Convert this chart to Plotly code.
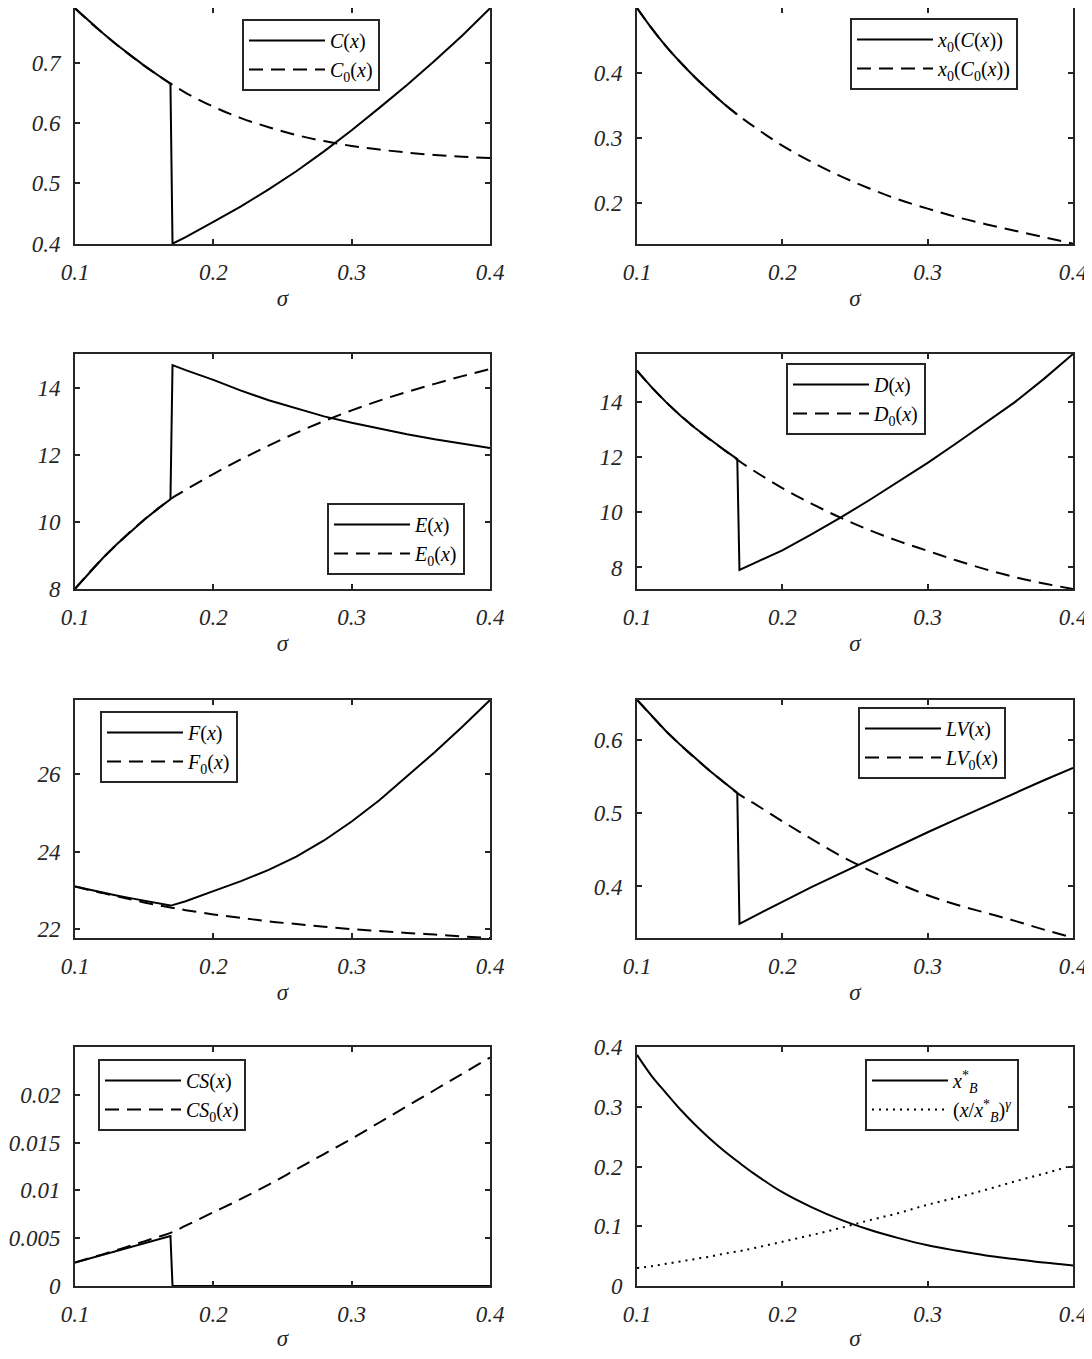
import plotly.graph_objects as go

# ---------------- data ----------------
sigma_pre = [0.10, 0.11, 0.12, 0.13, 0.14, 0.15, 0.16, 0.169]
sigma_post = [0.1705, 0.18, 0.20, 0.22, 0.24, 0.26, 0.28, 0.30, 0.32, 0.34, 0.36, 0.38, 0.40]
sigma_all = [0.10, 0.11, 0.12, 0.13, 0.14, 0.15, 0.16, 0.17, 0.18, 0.20, 0.22, 0.24,
             0.26, 0.28, 0.30, 0.32, 0.34, 0.36, 0.38, 0.40]

C_pre = [0.790, 0.769, 0.749, 0.730, 0.712, 0.695, 0.679, 0.665]
C_post = [0.400, 0.411, 0.436, 0.462, 0.490, 0.520, 0.553, 0.588, 0.625, 0.663, 0.703, 0.745, 0.790]
C0 = [0.790, 0.769, 0.749, 0.730, 0.712, 0.695, 0.679, 0.664, 0.650, 0.627, 0.608, 0.593,
      0.580, 0.570, 0.562, 0.556, 0.551, 0.547, 0.544, 0.542]

x0C_pre = [0.500, 0.469, 0.441, 0.416, 0.393, 0.372, 0.352, 0.336]
x0C0 = [0.500, 0.469, 0.441, 0.416, 0.393, 0.372, 0.352, 0.334, 0.318, 0.288, 0.263, 0.241,
        0.222, 0.205, 0.191, 0.178, 0.167, 0.157, 0.147, 0.137]

E_pre = [8.00, 8.47, 8.91, 9.32, 9.70, 10.06, 10.39, 10.67]
E_post = [14.67, 14.52, 14.23, 13.91, 13.62, 13.37, 13.14, 12.95, 12.77, 12.61, 12.46, 12.32, 12.20]
E0 = [8.00, 8.47, 8.91, 9.32, 9.70, 10.06, 10.39, 10.70, 10.95, 11.42, 11.86, 12.27,
      12.65, 13.00, 13.32, 13.61, 13.87, 14.11, 14.34, 14.55]

D_pre = [15.12, 14.52, 13.98, 13.49, 13.04, 12.63, 12.25, 11.92]
D_post = [7.91, 8.14, 8.62, 9.20, 9.80, 10.44, 11.10, 11.78, 12.50, 13.24, 13.98, 14.82, 15.72]
D0 = [15.12, 14.52, 13.98, 13.49, 13.04, 12.63, 12.25, 11.86, 11.51, 10.87, 10.31, 9.80,
      9.35, 8.95, 8.60, 8.25, 7.93, 7.65, 7.42, 7.22]

F_pre = [23.10, 23.02, 22.94, 22.87, 22.80, 22.73, 22.67, 22.61]
F_post = [22.62, 22.72, 22.98, 23.24, 23.53, 23.87, 24.29, 24.78, 25.33, 25.94, 26.57, 27.23, 27.92]
F0 = [23.10, 23.01, 22.93, 22.85, 22.77, 22.69, 22.62, 22.55, 22.49, 22.38, 22.29, 22.20,
      22.13, 22.06, 22.00, 21.95, 21.90, 21.86, 21.81, 21.77]

LV_pre = [0.655, 0.633, 0.612, 0.593, 0.575, 0.558, 0.542, 0.528]
LV_post = [0.349, 0.359, 0.379, 0.399, 0.418, 0.437, 0.455, 0.474, 0.492, 0.510, 0.528, 0.545, 0.562]
LV0 = [0.655, 0.633, 0.612, 0.593, 0.575, 0.558, 0.542, 0.526, 0.514, 0.489, 0.465, 0.442,
       0.422, 0.404, 0.388, 0.375, 0.364, 0.353, 0.341, 0.330]

CS_pre = [0.00244, 0.00285, 0.00325, 0.00365, 0.00405, 0.00444, 0.00483, 0.00522]
CS_post = [0.0, 0.0, 0.0, 0.0, 0.0, 0.0, 0.0, 0.0, 0.0, 0.0, 0.0, 0.0, 0.0]
CS0 = [0.00244, 0.00287, 0.00330, 0.00374, 0.00420, 0.00466, 0.00512, 0.00560, 0.00630, 0.00770,
       0.00910, 0.01060, 0.01220, 0.01380, 0.01540, 0.01710, 0.01880, 0.02050, 0.02220, 0.02390]

xB = [0.387, 0.352, 0.323, 0.295, 0.270, 0.247, 0.226, 0.207, 0.189, 0.157, 0.132, 0.111,
      0.094, 0.080, 0.068, 0.059, 0.051, 0.045, 0.039, 0.034]
ratio_gamma = [0.030, 0.033, 0.037, 0.041, 0.045, 0.049, 0.054, 0.058, 0.063, 0.074, 0.085, 0.097,
               0.110, 0.122, 0.136, 0.148, 0.161, 0.175, 0.188, 0.202]

x_tickvals = [0.1, 0.2, 0.3, 0.4]
x_ticktext = ["0.1", "0.2", "0.3", "0.4"]

# per-panel y axis: (range, tickvals, ticktext)
y_axes = [
    ([0.3995, 0.7905], [0.4, 0.5, 0.6, 0.7], ["0.4", "0.5", "0.6", "0.7"]),
    ([0.1365, 0.5], [0.2, 0.3, 0.4], ["0.2", "0.3", "0.4"]),
    ([7.995, 15.0], [8, 10, 12, 14], ["8", "10", "12", "14"]),
    ([7.22, 15.72], [8, 10, 12, 14], ["8", "10", "12", "14"]),
    ([21.77, 27.92], [22, 24, 26], ["22", "24", "26"]),
    ([0.3296, 0.6546], [0.4, 0.5, 0.6], ["0.4", "0.5", "0.6"]),
    ([-0.00001, 0.025], [0, 0.005, 0.01, 0.015, 0.02], ["0", "0.005", "0.01", "0.015", "0.02"]),
    ([-0.0002, 0.4002], [0, 0.1, 0.2, 0.3, 0.4], ["0", "0.1", "0.2", "0.3", "0.4"]),
]

# ---------------- styling ----------------
PAGE_OFF = 8                       # default body margin of the html page
W, H = 1092 - PAGE_OFF, 1359 - 2 * PAGE_OFF
FONT = "Liberation Serif"
AX = "#262626"
# panel boxes in screen pixels
col_px = [(75, 490), (637, 1073)]
row_px = [(6, 244), (354, 589), (700, 938), (1047, 1286)]
DASH = "14px,8px"
DOT = "2px,5px"
LW = 2

fig = go.Figure()


def add(panel, x, y, name, dash="solid", shape="linear"):
    fig.add_trace(go.Scatter(
        x=x, y=y, name=name, mode="lines",
        line=dict(color="black", width=LW, dash=dash, shape=shape),
        xaxis="x" if panel == 1 else f"x{panel}",
        yaxis="y" if panel == 1 else f"y{panel}",
        legend="legend" if panel == 1 else f"legend{panel}",
        hoverinfo="skip",
    ))


it = "<i>{}</i>"
X = it.format("x")

add(1, sigma_pre + sigma_post, C_pre + C_post, f"{it.format('C')}({X})")
add(1, sigma_all, C0, f"{it.format('C')}<sub>0</sub>({X})", DASH, "spline")

add(2, sigma_pre, x0C_pre, f"{X}<sub>0</sub>({it.format('C')}({X}))", "solid", "spline")
add(2, sigma_all, x0C0, f"{X}<sub>0</sub>({it.format('C')}<sub>0</sub>({X}))", DASH, "spline")

add(3, sigma_pre + sigma_post, E_pre + E_post, f"{it.format('E')}({X})")
add(3, sigma_all, E0, f"{it.format('E')}<sub>0</sub>({X})", DASH, "spline")

add(4, sigma_pre + sigma_post, D_pre + D_post, f"{it.format('D')}({X})")
add(4, sigma_all, D0, f"{it.format('D')}<sub>0</sub>({X})", DASH, "spline")

add(5, sigma_pre + sigma_post, F_pre + F_post, f"{it.format('F')}({X})")
add(5, sigma_all, F0, f"{it.format('F')}<sub>0</sub>({X})", DASH, "spline")

add(6, sigma_pre + sigma_post, LV_pre + LV_post, f"{it.format('LV')}({X})")
add(6, sigma_all, LV0, f"{it.format('LV')}<sub>0</sub>({X})", DASH, "spline")

add(7, sigma_pre + sigma_post, CS_pre + CS_post, f"{it.format('CS')}({X})")
add(7, sigma_all, CS0, f"{it.format('CS')}<sub>0</sub>({X})", DASH, "spline")

add(8, sigma_all, xB, f"{X}<sup>*</sup><sub>{it.format('B')}</sub>", "solid", "spline")
add(8, sigma_all, ratio_gamma,
    f"({X}/{X}<sup>*</sup><sub>{it.format('B')}</sub>)<sup>{it.format('γ')}</sup>", DOT, "spline")

tickfont = dict(family=FONT, size=23, color=AX, style="italic")

# legend box centres in screen pixels
legend_pos = [
    (311, 55), (934, 54),
    (396, 539), (856, 399),
    (169, 747), (932, 743),
    (172, 1095), (942, 1095),
]

layout = dict(
    width=W, height=H, margin=dict(l=0, r=0, t=0, b=0, pad=0, autoexpand=False),
    paper_bgcolor="white", plot_bgcolor="white",
    font=dict(family=FONT, color="black"),
)


def px_x(v):
    return min(1.0, max(0.0, (v - PAGE_OFF) / W))


def px_y(v):
    return min(1.0, max(0.0, 1 - (v - PAGE_OFF) / H))


for i in range(8):
    p = i + 1
    r, c = divmod(i, 2)
    x0p, x1p = col_px[c]
    t, b = row_px[r]
    xk = "xaxis" if p == 1 else f"xaxis{p}"
    yk = "yaxis" if p == 1 else f"yaxis{p}"
    yr, yv, yt = y_axes[i]
    layout[xk] = dict(
        domain=[px_x(x0p), px_x(x1p)], range=[0.1, 0.4],
        anchor="y" if p == 1 else f"y{p}", automargin=False,
        tickvals=x_tickvals, ticktext=x_ticktext, tickfont=tickfont,
        ticks="inside", ticklen=5, tickwidth=1.5, tickcolor=AX,
        showline=True, linewidth=1.8, linecolor=AX, mirror="allticks",
        showgrid=False, zeroline=False, ticklabelstandoff=6,
        ticklabeloverflow="allow",
        title=dict(text="<i>σ</i>", font=dict(family=FONT, size=23, color=AX), standoff=6),
    )
    layout[yk] = dict(
        domain=[px_y(b), px_y(t)], range=yr,
        anchor="x" if p == 1 else f"x{p}", automargin=False,
        tickvals=yv, ticktext=yt, tickfont=tickfont,
        ticks="inside", ticklen=5, tickwidth=1.5, tickcolor=AX,
        showline=True, linewidth=1.8, linecolor=AX, mirror="allticks",
        showgrid=False, zeroline=False, ticklabelstandoff=8,
        ticklabeloverflow="allow",
    )
    lx, ly = legend_pos[i]
    lk = "legend" if p == 1 else f"legend{p}"
    layout[lk] = dict(
        x=px_x(lx), y=px_y(ly), xanchor="center", yanchor="middle",
        xref="paper", yref="paper",
        bgcolor="white", bordercolor=AX, borderwidth=2,
        font=dict(family=FONT, size=20, color="black"),
        tracegroupgap=0, itemwidth=76, itemclick=False, itemdoubleclick=False,
    )

fig.update_layout(**layout)
fig.write_html("out.html")
